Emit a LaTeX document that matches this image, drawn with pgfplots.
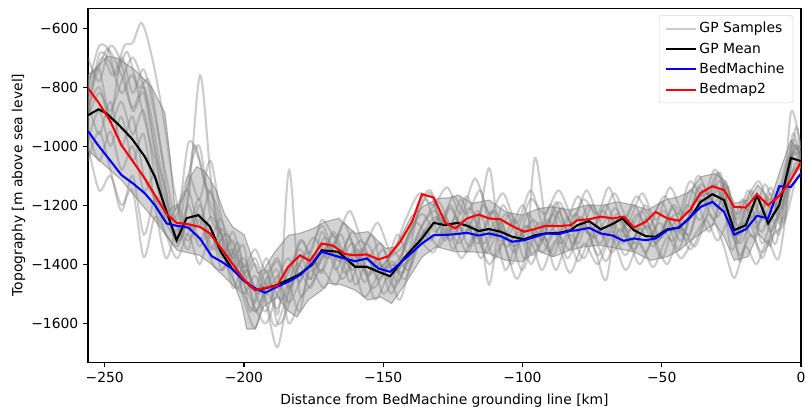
\documentclass[border=0pt]{standalone}
\usepackage{pgfplots}
\pgfplotsset{compat=1.18}
\usepackage{fontspec}
\setmainfont{DejaVu Sans}
\begin{document}
\begin{tikzpicture}
\begin{axis}[
  name=ax,
  width=513.3pt, height=254.9pt, scale only axis,
  xmin=-256, xmax=0, ymin=-1732, ymax=-532,
  xtick={-250,-200,-150,-100,-50,0},
  xticklabels={−250,−200,−150,−100,−50,0},
  ytick={-1600,-1400,-1200,-1000,-800,-600},
  yticklabels={−1600,−1400,−1200,−1000,−800,−600},
  tick pos=left, tick align=outside,
  major tick length=3.5pt,
  tick style={black, line width=0.8pt},
  axis line style={line width=0.8pt},
  ticklabel style={font=\fontsize{10}{12}\selectfont},
  xlabel={Distance from BedMachine grounding line [km]},
  ylabel={Topography [m above sea level]},
  label style={font=\fontsize{10}{12}\selectfont},
  xlabel style={at={(axis description cs:0.5,-0.110)}, anchor=center},
  ylabel style={at={(axis description cs:-0.0975,0.5)}, anchor=center},
  legend style={at={(rel axis cs:0.989,0.980)}, anchor=north east,
    draw=black!15, rounded corners=2pt, fill=white, fill opacity=0.8, text opacity=1,
    font=\fontsize{10}{12}\selectfont, row sep=1.6pt, inner xsep=4pt, inner ysep=3pt},
  legend cell align=left,
  legend image code/.code={\draw[#1] (0pt,0pt) -- (21.6pt,0pt);},
  every axis plot/.append style={line width=1.5pt},
]
% GP samples
\addplot[gray, draw opacity=0.4, smooth] coordinates {(-256,-820) (-251,-700) (-247,-760) (-243,-660) (-240,-650) (-236.7,-583) (-233,-700) (-229,-900) (-225,-1150) (-221,-1300) (-216,-1230) (-211,-1350) (-206,-1300) (-201,-1480) (-196,-1560) (-191,-1470) (-186,-1520) (-181,-1400) (-176,-1450) (-171,-1330) (-166,-1390) (-161,-1330) (-156,-1440) (-151,-1400) (-146,-1480) (-141,-1380) (-136,-1270) (-131,-1220) (-126,-1320) (-121,-1250) (-116,-1330) (-111,-1220) (-106,-1340) (-101,-1290) (-96,-1370) (-91,-1250) (-86,-1330) (-81,-1230) (-76,-1300) (-71,-1220) (-66,-1310) (-61,-1250) (-56,-1360) (-51,-1260) (-46,-1320) (-41,-1200) (-36,-1250) (-31,-1130) (-27,-1240) (-23,-1330) (-19,-1240) (-15,-1180) (-11,-1290) (-7,-1180) (-3,-980) (0,-1060)};
\addlegendentry{GP Samples}
\addplot[gray, draw opacity=0.4, smooth, forget plot] coordinates {(-256,-900) (-252,-690) (-248,-720) (-244,-820) (-240,-760) (-236,-900) (-232,-1050) (-228,-1200) (-224,-1330) (-220,-1180) (-215.8,-760) (-212,-1100) (-208,-1370) (-204,-1290) (-200,-1420) (-196,-1530) (-192,-1420) (-188,-1600) (-184,-1540) (-180,-1370) (-176,-1450) (-172,-1290) (-167,-1420) (-162,-1310) (-157,-1460) (-152,-1380) (-147,-1500) (-142,-1330) (-137,-1220) (-133,-1160) (-128,-1320) (-124,-1240) (-119,-1340) (-114,-1200) (-109,-1290) (-104,-1230) (-99,-1380) (-95.5,-1040) (-91,-1290) (-87,-1220) (-82,-1330) (-77,-1250) (-72,-1330) (-67,-1210) (-62,-1290) (-57,-1220) (-52,-1330) (-47,-1240) (-42,-1300) (-37,-1140) (-33,-1200) (-29,-1120) (-25,-1350) (-21,-1260) (-17,-1310) (-13,-1220) (-9,-1330) (-4,-1050) (0,-1000)};
\addplot[gray, draw opacity=0.4, smooth, forget plot] coordinates {(-256,-850) (-253,-760) (-249,-670) (-246,-760) (-242,-680) (-238,-800) (-234,-780) (-230,-1000) (-226,-1280) (-222,-1300) (-218,-1000) (-214,-1130) (-210,-1200) (-206,-1400) (-202,-1330) (-198,-1560) (-194,-1470) (-189,-1610) (-185,-1520) (-181,-1420) (-177,-1360) (-173,-1400) (-168,-1300) (-164,-1430) (-159,-1350) (-154,-1480) (-149,-1420) (-145,-1390) (-140,-1300) (-135,-1180) (-130,-1300) (-126,-1210) (-121,-1300) (-116,-1240) (-112,-1470) (-108,-1260) (-103,-1360) (-98,-1230) (-93,-1320) (-88,-1190) (-84,-1290) (-79,-1240) (-74,-1350) (-70,-1454) (-66,-1250) (-61,-1340) (-56,-1200) (-51,-1310) (-46,-1210) (-41,-1320) (-36,-1180) (-31,-1250) (-27,-1120) (-23,-1300) (-19,-1200) (-15,-1260) (-11,-1160) (-7,-1260) (-3.6,-885) (0,-1010)};
\addplot[gray, draw opacity=0.4, smooth, forget plot] coordinates {(-256,-980) (-252,-880) (-248,-1000) (-244,-900) (-240,-1050) (-236,-960) (-232,-1200) (-228,-1380) (-224,-1280) (-220,-1350) (-216,-1200) (-212,-1310) (-208,-1250) (-203,-1480) (-199,-1420) (-195,-1500) (-191,-1440) (-187.5,-1560) (-183.8,-1081) (-180,-1500) (-176,-1420) (-171,-1480) (-166,-1360) (-161,-1420) (-156,-1330) (-151,-1410) (-146,-1360) (-141,-1420) (-136,-1300) (-131,-1240) (-127,-1310) (-122,-1180) (-117,-1310) (-112,-1075) (-108,-1320) (-103,-1250) (-98,-1330) (-94,-1260) (-89,-1370) (-84,-1240) (-80,-1330) (-75,-1200) (-70,-1300) (-65,-1240) (-60,-1330) (-55,-1270) (-50,-1380) (-45,-1250) (-40,-1300) (-35,-1150) (-30,-1210) (-26,-1140) (-22,-1390) (-18,-1240) (-14,-1290) (-10,-1200) (-6,-1250) (-2,-940) (0,-1030)};
\addplot[gray, draw opacity=0.4, smooth, forget plot] coordinates {(-256,-1000) (-252,-1150) (-248,-1100) (-244,-1200) (-240,-1150) (-236,-1376) (-232,-1240) (-228,-1300) (-224,-1340) (-220,-1260) (-216,-1340) (-212,-1280) (-208,-1420) (-204,-1350) (-200,-1520) (-196,-1617) (-192,-1500) (-188,-1550) (-184,-1470) (-180,-1560) (-176,-1380) (-172,-1430) (-167,-1320) (-162,-1460) (-158,-1380) (-153,-1520) (-148,-1440) (-144,-1520) (-139,-1360) (-134,-1300) (-129,-1230) (-125,-1350) (-120,-1260) (-115,-1380) (-110,-1290) (-106,-1420) (-101,-1300) (-97,-1400) (-92,-1310) (-88,-1420) (-83,-1300) (-78,-1380) (-73,-1280) (-68,-1360) (-63,-1300) (-58,-1400) (-53,-1320) (-48,-1400) (-43,-1280) (-38,-1340) (-33,-1230) (-28,-1330) (-24,-1447) (-20,-1340) (-16,-1400) (-12,-1320) (-8,-1380) (-4,-1150) (0,-1090)};
\addplot[gray, draw opacity=0.4, smooth, forget plot] coordinates {(-256,-780) (-252,-740) (-248,-900) (-244,-700) (-240,-820) (-236,-740) (-232,-900) (-228,-1100) (-224,-1250) (-220,-990) (-216,-1050) (-212,-1200) (-208,-1300) (-204,-1420) (-200,-1380) (-196,-1480) (-192,-1380) (-188,-1480) (-184,-1420) (-179,-1320) (-175,-1420) (-170,-1340) (-165,-1450) (-160,-1390) (-155,-1430) (-150,-1350) (-145,-1460) (-140,-1350) (-135,-1250) (-130,-1190) (-125,-1280) (-120,-1170) (-115,-1290) (-110,-1220) (-105,-1300) (-100,-1200) (-95,-1310) (-90,-1200) (-85,-1270) (-80,-1170) (-75,-1280) (-70,-1200) (-65,-1290) (-60,-1200) (-55,-1280) (-50,-1190) (-45,-1290) (-40,-1150) (-35,-1200) (-30,-1090) (-26,-1200) (-22,-1270) (-18,-1150) (-14,-1250) (-10,-1180) (-6,-1240) (-3,-960) (0,-1050)};
\addplot[gray, draw opacity=0.4, smooth, forget plot] coordinates {(-256,-900) (-252,-820) (-248,-880) (-244,-780) (-240,-700) (-236,-800) (-232,-1000) (-228,-1250) (-224,-1200) (-220,-1150) (-216,-1270) (-212,-1150) (-208,-1350) (-204,-1450) (-200,-1500) (-196,-1440) (-192,-1540) (-188,-1682) (-184,-1500) (-180,-1430) (-176,-1480) (-172,-1380) (-167,-1360) (-162,-1400) (-157,-1350) (-152,-1450) (-147,-1390) (-143,-1430) (-138,-1320) (-133,-1270) (-128,-1240) (-124,-1290) (-119,-1210) (-114,-1330) (-109,-1250) (-104,-1400) (-99,-1270) (-94,-1340) (-89,-1230) (-84,-1380) (-79,-1280) (-74,-1310) (-69,-1240) (-64,-1330) (-59,-1230) (-54,-1300) (-49,-1220) (-44,-1350) (-39,-1200) (-34,-1160) (-30,-1240) (-26,-1170) (-22,-1300) (-18,-1200) (-14,-1330) (-10,-1230) (-6,-1150) (-2,-1000) (0,-1030)};
\addplot[gray, draw opacity=0.4, smooth, forget plot] coordinates {(-256,-850) (-252,-960) (-248,-850) (-244,-1000) (-240,-900) (-236,-1100) (-232,-1180) (-228,-1300) (-224,-1380) (-220,-1300) (-216,-1400) (-212,-1300) (-208,-1380) (-204,-1320) (-200,-1450) (-196,-1400) (-192,-1500) (-188,-1440) (-184,-1530) (-180,-1460) (-176,-1380) (-172,-1420) (-168,-1290) (-163,-1380) (-158,-1320) (-153,-1420) (-148,-1380) (-143,-1340) (-138,-1260) (-133,-1320) (-128,-1250) (-123,-1330) (-118,-1270) (-113,-1360) (-108,-1280) (-103,-1340) (-98,-1270) (-93,-1360) (-88,-1290) (-83,-1350) (-78,-1260) (-73,-1370) (-68,-1290) (-63,-1370) (-58,-1280) (-53,-1340) (-48,-1250) (-43,-1320) (-38,-1180) (-33,-1290) (-28,-1170) (-24,-1310) (-20,-1210) (-16,-1280) (-12,-1180) (-8,-1300) (-4,-1100) (0,-1070)};
\addplot[gray, draw opacity=0.4, smooth, forget plot] coordinates {(-256,-1050) (-252,-950) (-248,-1080) (-244,-1220) (-240,-1100) (-236,-1300) (-232,-1180) (-228,-1260) (-224,-1300) (-220,-1100) (-216,-1000) (-212,-1240) (-208,-1300) (-204,-1380) (-200,-1340) (-196,-1560) (-192,-1460) (-188,-1390) (-184,-1480) (-180,-1400) (-175,-1310) (-170,-1380) (-165,-1300) (-160,-1470) (-155,-1370) (-150,-1500) (-145,-1420) (-140,-1380) (-135,-1290) (-130,-1340) (-125,-1260) (-120,-1360) (-115,-1280) (-110,-1380) (-105,-1300) (-100,-1420) (-95,-1290) (-90,-1360) (-85,-1270) (-80,-1390) (-75,-1300) (-70,-1390) (-65,-1280) (-60,-1350) (-55,-1240) (-50,-1310) (-45,-1230) (-40,-1350) (-35,-1260) (-30,-1150) (-26,-1240) (-22,-1330) (-18,-1270) (-14,-1380) (-10,-1270) (-6,-1200) (-2,-1060) (0,-1080)};
\addplot[gray, draw opacity=0.4, smooth, forget plot] coordinates {(-256,-800) (-252,-660) (-248,-680) (-244,-760) (-240,-870) (-236,-800) (-232,-960) (-228,-1180) (-224,-1270) (-220,-1320) (-216,-1250) (-212,-1350) (-208,-1280) (-204,-1390) (-200,-1470) (-196,-1550) (-192,-1600) (-188,-1500) (-184,-1430) (-180,-1350) (-176,-1400) (-171,-1310) (-166,-1380) (-161,-1290) (-156,-1380) (-151,-1330) (-146,-1430) (-141,-1300) (-136,-1230) (-131,-1290) (-126,-1200) (-121,-1290) (-116,-1220) (-111,-1310) (-106,-1230) (-101,-1320) (-96,-1250) (-91,-1320) (-86,-1210) (-81,-1290) (-76,-1200) (-71,-1310) (-66,-1230) (-61,-1320) (-56,-1250) (-51,-1320) (-46,-1200) (-41,-1260) (-36,-1130) (-31,-1190) (-27,-1130) (-23,-1250) (-19,-1150) (-15,-1230) (-11,-1140) (-7,-1210) (-3,-1000) (0,-1040)};
\addplot[gray, draw opacity=0.4, smooth, forget plot] coordinates {(-256,-700) (-252,-780) (-248,-660) (-244,-720) (-240,-880) (-236,-820) (-232,-1020) (-228,-1150) (-224,-1310) (-220,-1200) (-216,-1320) (-212,-1240) (-208,-1310) (-204,-1480) (-200,-1400) (-196,-1500) (-192,-1560) (-188,-1450) (-184,-1380) (-180,-1460) (-176,-1350) (-172,-1270) (-168,-1340) (-164,-1260) (-159,-1380) (-154,-1300) (-150,-1420) (-145,-1300) (-141,-1360) (-137,-1200) (-133,-1150) (-129,-1260) (-125,-1170) (-120,-1230) (-115,-1150) (-111,-1300) (-107,-1200) (-102,-1280) (-97,-1180) (-92,-1230) (-87,-1150) (-82,-1240) (-78,-1180) (-73,-1230) (-69,-1140) (-64,-1250) (-59,-1170) (-54,-1240) (-49,-1170) (-44,-1230) (-40,-1120) (-35,-1170) (-31,-1080) (-27,-1150) (-23,-1230) (-19,-1170) (-15,-1120) (-11,-1210) (-7,-1130) (-3,-1020) (0,-1060)};
\addplot[gray, draw opacity=0.4, smooth, forget plot] coordinates {(-256,-950) (-252,-1050) (-248,-950) (-244,-1080) (-240,-1000) (-236,-1150) (-232,-1100) (-228,-1220) (-224,-1200) (-220,-1280) (-216,-1180) (-212,-1380) (-208,-1420) (-204,-1360) (-200,-1430) (-196,-1380) (-192,-1470) (-188,-1420) (-184,-1600) (-180,-1520) (-176,-1470) (-172,-1420) (-167,-1470) (-162,-1370) (-157,-1510) (-152,-1440) (-147,-1400) (-142,-1450) (-137,-1330) (-132,-1360) (-127,-1280) (-122,-1380) (-117,-1300) (-112,-1400) (-107,-1330) (-102,-1450) (-97,-1330) (-93,-1420) (-88,-1320) (-83,-1430) (-78,-1330) (-73,-1400) (-68,-1310) (-63,-1420) (-58,-1330) (-53,-1410) (-48,-1310) (-43,-1380) (-38,-1300) (-34,-1250) (-30,-1320) (-26,-1260) (-22,-1370) (-18,-1300) (-14,-1360) (-10,-1300) (-6,-1260) (-2,-1120) (0,-1100)};
\addplot[gray, draw opacity=0.4, smooth, forget plot] coordinates {(-256,-870) (-252,-800) (-248,-920) (-244,-850) (-240,-960) (-236,-880) (-232,-1100) (-228,-1240) (-224,-1230) (-220,-1100) (-216,-1180) (-212,-1050) (-208,-1250) (-204,-1330) (-200,-1410) (-196,-1350) (-192,-1430) (-188,-1380) (-184,-1460) (-180,-1320) (-176,-1360) (-172,-1250) (-167,-1310) (-162,-1220) (-157,-1330) (-152,-1260) (-147,-1360) (-142,-1250) (-137,-1160) (-132,-1200) (-127,-1140) (-122,-1230) (-117,-1110) (-112,-1230) (-107,-1160) (-102,-1260) (-97,-1150) (-92,-1280) (-87,-1190) (-82,-1260) (-77,-1150) (-72,-1250) (-67,-1160) (-62,-1250) (-57,-1160) (-52,-1250) (-47,-1140) (-42,-1230) (-37,-1100) (-33,-1170) (-29,-1090) (-25,-1260) (-21,-1180) (-17,-1240) (-13,-1130) (-9,-1200) (-5,-1050) (0,-1020)};
% GP band
\addplot[draw=gray, draw opacity=0.6, line width=0.8pt, fill=gray, fill opacity=0.35, forget plot] coordinates {
(-256,-760) (-248.9,-695) (-245.3,-702) (-239.2,-742) (-233.2,-799) (-228.4,-888) (-226.5,-1040) (-224.8,-1217) (-222,-1180) (-219,-1100) (-217,-1070) (-214,-1085) (-210,-1150) (-207,-1230) (-204,-1275) (-200,-1300) (-197,-1380) (-195,-1430) (-193,-1420) (-189,-1360) (-184,-1302) (-180,-1296) (-175,-1279) (-171,-1257) (-166,-1245) (-160,-1296) (-155.5,-1290) (-149,-1347) (-145.5,-1341) (-140,-1239) (-135,-1200) (-130,-1177) (-126,-1175) (-123,-1166) (-118,-1194) (-112,-1183) (-106,-1223) (-100,-1234) (-94,-1211) (-89,-1206) (-83,-1217) (-77,-1200) (-71,-1200) (-66,-1189) (-60,-1200) (-55,-1217) (-49,-1183) (-44,-1172) (-40,-1155) (-36,-1104) (-31,-1093) (-27.6,-1115) (-24,-1194) (-19,-1183) (-15.5,-1132) (-11,-1183) (-7,-1070) (-3.6,-980) (0,-1036)
(0,-1070) (-3.6,-1115) (-7,-1206) (-11,-1341) (-15.5,-1296) (-19,-1375) (-24,-1387) (-27.6,-1307) (-31,-1262) (-36,-1296) (-39.6,-1319) (-43.2,-1350) (-48,-1375) (-54,-1387) (-60,-1358) (-66,-1347) (-72,-1336) (-78,-1341) (-83,-1353) (-89,-1375) (-95,-1353) (-100,-1392) (-106,-1387) (-112,-1364) (-118,-1358) (-124,-1358) (-131,-1341) (-136,-1375) (-142,-1465) (-147,-1533) (-151,-1511) (-155.5,-1522) (-160,-1488) (-165,-1470) (-170,-1465) (-172,-1488) (-177,-1522) (-181,-1579) (-184.5,-1556) (-188,-1511) (-193,-1545) (-196,-1620) (-199,-1620) (-201,-1530) (-203,-1480) (-207,-1443) (-212,-1398) (-216,-1370) (-224,-1353) (-232,-1251) (-244,-1115) (-256,-1014)
} -- cycle;
% GP mean
\addplot[black] coordinates {(-256,-895) (-252.2,-875) (-249.4,-889) (-245.3,-925) (-240.4,-973) (-235.6,-1036) (-232.0,-1104) (-227.8,-1223) (-224.2,-1319) (-220.6,-1244) (-216.4,-1234) (-212.2,-1273) (-208.3,-1359) (-204.4,-1414) (-200.8,-1448) (-196.0,-1488) (-192.4,-1482) (-188.2,-1471) (-180.5,-1437) (-175.6,-1403) (-172.1,-1353) (-166.1,-1358) (-160.1,-1409) (-155.9,-1409) (-151.7,-1426) (-147.5,-1441) (-142.1,-1375) (-136.1,-1313) (-131.9,-1260) (-127.7,-1268) (-123.5,-1260) (-119.9,-1270) (-115.7,-1288) (-112.1,-1281) (-107.9,-1290) (-103.7,-1307) (-99.5,-1316) (-95.3,-1302) (-91.7,-1296) (-86.9,-1294) (-82.7,-1285) (-80.3,-1268) (-76.1,-1254) (-71.9,-1282) (-67.7,-1264) (-64.1,-1245) (-60.0,-1285) (-55.8,-1305) (-52.2,-1307) (-48.0,-1282) (-43.8,-1276) (-39.6,-1240) (-36.0,-1189) (-31.8,-1163) (-27.6,-1183) (-24.0,-1285) (-19.8,-1268) (-15.8,-1166) (-11.8,-1262) (-7.8,-1200) (-3.6,-1040) (0,-1051)};
\addlegendentry{GP Mean}
% BedMachine
\addplot[blue] coordinates {(-256,-949) (-252.4,-997) (-248.2,-1047) (-244.0,-1098) (-239.8,-1127) (-235.6,-1160) (-232.0,-1200) (-227.8,-1262) (-224.2,-1270) (-220.0,-1276) (-215.8,-1313) (-211.6,-1373) (-208.0,-1392) (-204.4,-1415) (-200.3,-1454) (-196.0,-1482) (-192.4,-1497) (-188.2,-1477) (-184.1,-1460) (-179.9,-1437) (-175.6,-1398) (-172.1,-1358) (-166.1,-1375) (-160.1,-1390) (-155.9,-1381) (-151.7,-1415) (-147.5,-1426) (-142.1,-1381) (-136.1,-1330) (-131.9,-1302) (-125.9,-1300) (-119.9,-1294) (-115.7,-1303) (-112.1,-1296) (-107.9,-1305) (-103.7,-1324) (-99.5,-1319) (-95.3,-1307) (-91.7,-1296) (-86.9,-1298) (-82.7,-1287) (-80.3,-1285) (-76.1,-1277) (-71.9,-1296) (-67.7,-1303) (-63.6,-1321) (-60.0,-1313) (-55.8,-1319) (-52.2,-1313) (-48.0,-1285) (-43.8,-1276) (-39.6,-1239) (-36.0,-1206) (-31.8,-1189) (-27.6,-1223) (-24.0,-1300) (-19.8,-1282) (-15.8,-1236) (-11.8,-1245) (-7.8,-1136) (-3.6,-1138) (0,-1093)};
\addlegendentry{BedMachine}
% Bedmap2
\addplot[red] coordinates {(-256,-804) (-252.4,-850) (-248.2,-912) (-244.0,-997) (-239.8,-1053) (-235.6,-1110) (-232.0,-1166) (-227.8,-1230) (-224.2,-1260) (-220.0,-1265) (-215.8,-1274) (-212.2,-1296) (-210.4,-1319) (-206.8,-1364) (-203.8,-1403) (-200.3,-1449) (-196.0,-1488) (-191.8,-1479) (-188.2,-1474) (-184.1,-1409) (-179.9,-1370) (-176.3,-1389) (-172.1,-1330) (-167.9,-1338) (-163.7,-1366) (-160.1,-1370) (-155.9,-1367) (-151.7,-1384) (-148.1,-1373) (-143.9,-1324) (-139.7,-1257) (-136.1,-1163) (-131.9,-1174) (-127.7,-1260) (-124.1,-1279) (-119.9,-1245) (-115.7,-1232) (-112.1,-1245) (-107.9,-1248) (-103.7,-1271) (-99.5,-1290) (-95.9,-1282) (-91.7,-1270) (-86.9,-1271) (-82.7,-1268) (-80.3,-1251) (-76.1,-1248) (-71.9,-1239) (-67.7,-1245) (-63.6,-1239) (-60.0,-1276) (-55.8,-1257) (-52.2,-1223) (-48.0,-1245) (-43.8,-1253) (-39.6,-1214) (-36.0,-1158) (-31.8,-1136) (-27.6,-1149) (-24.0,-1206) (-19.8,-1208) (-15.8,-1164) (-11.8,-1200) (-7.8,-1169) (-3.6,-1115) (0,-1053)};
\addlegendentry{Bedmap2}
\end{axis}
\pgfresetboundingbox
\path ([xshift=-63.4pt,yshift=-31.7pt]ax.south west) rectangle ([xshift=2.9pt,yshift=5.8pt]ax.north east);
\end{tikzpicture}
\end{document}
